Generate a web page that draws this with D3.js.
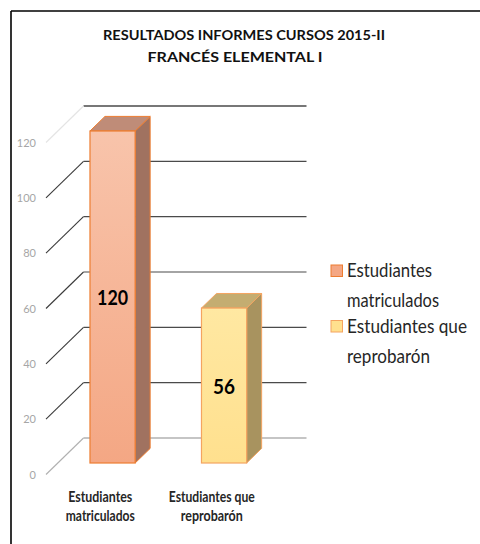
<!DOCTYPE html>
<html>
<head>
<meta charset="utf-8">
<script src="https://cdn.jsdelivr.net/npm/d3@7"></script>
<style>
    body { margin: 0; background: #fff; }
    text { font-family: Lato, "Open Sans", sans-serif; }
</style>
</head>
<body>
<script>
// data
var titleLines = ["RESULTADOS  INFORMES  CURSOS  2015-II", "FRANCÉS  ELEMENTAL  I"];
var categories = ["Estudiantes matriculados", "Estudiantes que reprobarón"];
var categoryLines = [["Estudiantes", "matriculados"], ["Estudiantes que", "reprobarón"]];
var values = [120, 56];
var yTicks = [0, 20, 40, 60, 80, 100, 120];

// styling for each series (front top, front bottom, side, top, outline)
var fills = [
    {front0: "#f8c4ab", front1: "#f4a784", side: "#a07260", top: "#bf8c78", stroke: "#ed7d31"},
    {front0: "#ffe8a2", front1: "#ffe08e", side: "#a8935f", top: "#c4ad71", stroke: "#f4a460"}
];

var width = 480, height = 544;

var svg = d3.select("body")
    .append("svg")
    .attr("width", width)
    .attr("height", height);

// frame: only the left and top edges are visible
svg.append("line").attr("x1", 11).attr("y1", 11).attr("x2", 480).attr("y2", 11)
    .attr("stroke", "#000").attr("stroke-width", 1.6);
svg.append("line").attr("x1", 11).attr("y1", 11).attr("x2", 11).attr("y2", 544)
    .attr("stroke", "#000").attr("stroke-width", 1.6);

// title
var titleX = [244, 235], titleW = [282, 175];
svg.selectAll(".title")
    .data(titleLines)
    .enter().append("text")
    .attr("class", "title")
    .attr("x", function(d, i) { return titleX[i]; })
    .attr("y", function(d, i) { return 40 + i * 22; })
    .attr("text-anchor", "middle")
    .attr("font-size", 14)
    .attr("font-weight", "bold")
    .attr("fill", "#111")
    .attr("textLength", function(d, i) { return titleW[i]; })
    .attr("lengthAdjust", "spacingAndGlyphs")
    .text(function(d) { return d; });

// the 3d box: front floor and the depth offset for the back wall
var depthX = 37.5, depthY = -36.5;

var y = d3.scaleLinear()
    .domain([0, 120])
    .range([474.5, 142.5]);

var x = d3.scaleBand()
    .domain(categories)
    .range([46, 269]);

// project a point (front x, value, depth fraction) to the screen
function px(xf, d) { return xf + d * depthX; }
function py(v, d) { return y(v) + d * depthY; }

// back wall gridlines
var grid = svg.append("g");
grid.selectAll(".back")
    .data(yTicks)
    .enter().append("line")
    .attr("class", "back")
    .attr("x1", px(x.range()[0], 1))
    .attr("x2", px(x.range()[1], 1))
    .attr("y1", function(d) { return py(d, 1); })
    .attr("y2", function(d) { return py(d, 1); })
    .attr("stroke", function(d) { return d == 0 ? "#8c8c8c" : "#4a4a4a"; })
    .attr("stroke-width", function(d) { return d == 120 ? 1.5 : 1.1; });

// side wall diagonals
grid.selectAll(".diag")
    .data(yTicks)
    .enter().append("line")
    .attr("class", "diag")
    .attr("x1", px(x.range()[0], 0))
    .attr("x2", px(x.range()[0], 1))
    .attr("y1", function(d) { return py(d, 0); })
    .attr("y2", function(d) { return py(d, 1); })
    .attr("stroke", function(d) { return d == 120 ? "#e4e4e4" : (d == 0 ? "#b0b0b0" : "#3a3a3a"); })
    .attr("stroke-width", 1.1);

// y tick labels
svg.selectAll(".tick")
    .data(yTicks)
    .enter().append("text")
    .attr("class", "tick")
    .attr("x", 36)
    .attr("y", function(d) { return y(d) + 4; })
    .attr("text-anchor", "end")
    .attr("font-size", 11)
    .attr("fill", "#a6a6a6")
    .text(function(d) { return d; });

// gradients for the front faces
var defs = svg.append("defs");
fills.forEach(function(f, i) {
    var g = defs.append("linearGradient")
        .attr("id", "front" + i)
        .attr("x1", 0).attr("y1", 0).attr("x2", 0).attr("y2", 1);
    g.append("stop").attr("offset", "0%").attr("stop-color", f.front0);
    g.append("stop").attr("offset", "100%").attr("stop-color", f.front1);
});

// bars sit between these depth fractions
var d0 = 0.315, d1 = 0.715;
var barFrac = 0.405;

var bars = svg.selectAll(".bar")
    .data(values)
    .enter().append("g")
    .attr("class", "bar");

function barLeft(i) { return x(categories[i]) + x.bandwidth() * (1 - barFrac) / 2 - 1; }
function barRight(i) { return barLeft(i) + x.bandwidth() * barFrac; }

function poly(pts) {
    return "M" + pts.map(function(p) { return p[0] + "," + p[1]; }).join("L") + "Z";
}

// side face
bars.append("path")
    .attr("d", function(v, i) {
        var r = barRight(i);
        return poly([[px(r, d0), py(0, d0)], [px(r, d1), py(0, d1)], [px(r, d1), py(v, d1)], [px(r, d0), py(v, d0)]]);
    })
    .attr("fill", function(v, i) { return fills[i].side; })
    .attr("stroke", function(v, i) { return fills[i].stroke; })
    .attr("stroke-width", 1)
    .attr("stroke-linejoin", "round");

// top face
bars.append("path")
    .attr("d", function(v, i) {
        var l = barLeft(i), r = barRight(i);
        return poly([[px(l, d0), py(v, d0)], [px(r, d0), py(v, d0)], [px(r, d1), py(v, d1)], [px(l, d1), py(v, d1)]]);
    })
    .attr("fill", function(v, i) { return fills[i].top; })
    .attr("stroke", function(v, i) { return fills[i].stroke; })
    .attr("stroke-width", 1)
    .attr("stroke-linejoin", "round");

// front face
bars.append("rect")
    .attr("x", function(v, i) { return px(barLeft(i), d0); })
    .attr("y", function(v) { return py(v, d0); })
    .attr("width", x.bandwidth() * barFrac)
    .attr("height", function(v) { return py(0, d0) - py(v, d0); })
    .attr("fill", function(v, i) { return "url(#front" + i + ")"; })
    .attr("stroke", function(v, i) { return fills[i].stroke; })
    .attr("stroke-width", 1.2);

// value labels in the middle of each bar
var labelW = [31, 22];
bars.append("text")
    .attr("x", function(v, i) { return px(barLeft(i), d0) + x.bandwidth() * barFrac / 2; })
    .attr("y", function(v) { return (py(v, d0) + py(0, d0)) / 2 + 8; })
    .attr("text-anchor", "middle")
    .attr("font-size", 21)
    .attr("font-weight", "bold")
    .attr("fill", "#000")
    .attr("textLength", function(v, i) { return labelW[i]; })
    .attr("lengthAdjust", "spacingAndGlyphs")
    .text(function(v) { return v; });

// category labels below the floor
var catW = [[64, 69], [86, 62]];
var cats = svg.selectAll(".cat")
    .data(categoryLines)
    .enter().append("g")
    .attr("class", "cat");

cats.selectAll("text")
    .data(function(d, i) { return d.map(function(t, j) { return {t: t, i: i, j: j}; }); })
    .enter().append("text")
    .attr("x", function(d) { return x(categories[d.i]) + x.bandwidth() / 2 - 1.5; })
    .attr("y", function(d) { return 501.5 + d.j * 19; })
    .attr("text-anchor", "middle")
    .attr("font-size", 15)
    .attr("font-weight", "bold")
    .attr("fill", "#262626")
    .attr("textLength", function(d) { return catW[d.i][d.j]; })
    .attr("lengthAdjust", "spacingAndGlyphs")
    .text(function(d) { return d.t; });

// legend
var legW = [[85, 92], [120, 83]];
var legend = svg.selectAll(".legend")
    .data(categoryLines)
    .enter().append("g")
    .attr("class", "legend")
    .attr("transform", function(d, i) { return "translate(331," + (265 + i * 55.5) + ")"; });

legend.append("rect")
    .attr("width", 11.5)
    .attr("height", 11.5)
    .attr("fill", function(d, i) { return fills[i].front1; })
    .attr("stroke", function(d, i) { return fills[i].stroke; })
    .attr("stroke-width", 1);

legend.selectAll("text")
    .data(function(d, i) { return d.map(function(t, j) { return {t: t, i: i, j: j}; }); })
    .enter().append("text")
    .attr("x", 16)
    .attr("y", function(d) { return 12 + d.j * 30; })
    .attr("font-size", 19)
    .attr("fill", "#262626")
    .attr("textLength", function(d) { return legW[d.i][d.j]; })
    .attr("lengthAdjust", "spacingAndGlyphs")
    .text(function(d) { return d.t; });
</script>
</body>
</html>
